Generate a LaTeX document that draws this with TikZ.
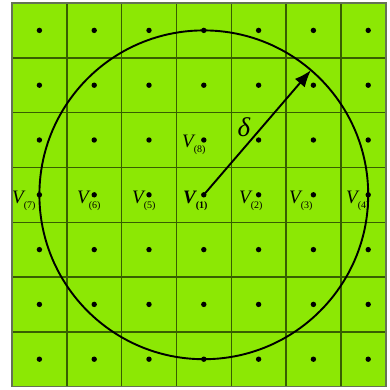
\documentclass[tikz,border=0pt]{standalone}
\usepackage{fontspec}
\setmainfont{Liberation Serif}
\usetikzlibrary{arrows.meta,calc}
\definecolor{cellgreen}{RGB}{140,232,4}
\definecolor{gridline}{RGB}{55,95,0}
\definecolor{frameline}{RGB}{100,115,85}
\tikzset{
  dotnode/.style={circle,fill=black,inner sep=0pt,minimum size=5.4pt},
  vlabel/.style={anchor=base west,inner sep=0pt,font=\fontsize{19}{19}\selectfont\itshape}
}
\newcommand{\vsub}[1]{\raisebox{-5pt}{\fontsize{10}{10}\selectfont\upshape(#1)}}
\newcommand{\vsubb}[1]{\raisebox{-5pt}{\fontsize{10}{10}\selectfont\upshape\bfseries(#1)}}
\begin{document}
\begin{tikzpicture}[x=1pt,y=-1pt]
\useasboundingbox (0,0) rectangle (390,389);
% background cells
\fill[cellgreen] (12,3) rectangle (386,386.6);
% grid lines
\foreach \k in {1,...,6}{
  \draw[gridline,line width=1.4pt] ({12+54.8*\k},3) -- ({12+54.8*\k},386.6);
  \draw[gridline,line width=1.4pt] (12,{3+54.8*\k}) -- (386,{3+54.8*\k});
}
\draw[frameline,line width=1.4pt] (12,3) rectangle (386,386.6);
% dots
\foreach \i in {1,...,7}{
  \foreach \j in {1,...,7}{
    \node[dotnode] (d\i\j) at ({39.4+54.8*(\i-1)},{30.4+54.8*(\j-1)}) {};
  }
}
% circle
\coordinate (c) at (d44);
\draw[black,line width=1.9pt] (c) circle (164.4);
\coordinate (tip) at ($(c)+(-49.3:164.4)$);
% labels
\node[vlabel] (v7) at (12,203) {V\vsub{7}};
\node[vlabel] (v6) at (77,203) {V\vsub{6}};
\node[vlabel] (v5) at (132,203) {V\vsub{5}};
\node[vlabel,font=\fontsize{19}{19}\selectfont\itshape\bfseries] (v1) at (183,203) {V\vsubb{1}};
\node[vlabel] (v2) at (239,203) {V\vsub{2}};
\node[vlabel] (v3) at (289,203) {V\vsub{3}};
\node[vlabel] (v4) at (346,203) {V\vsub{4}};
\node[vlabel] (v8) at (182,147) {V\vsub{8}};
% arrow
\draw[black,line width=1.9pt,-{Latex[length=17pt,width=13pt]}] (d44.center) -- (tip);
\node[font=\fontsize{27}{27}\selectfont\itshape] (delta) at (244,127) {δ};
\end{tikzpicture}
\end{document}
